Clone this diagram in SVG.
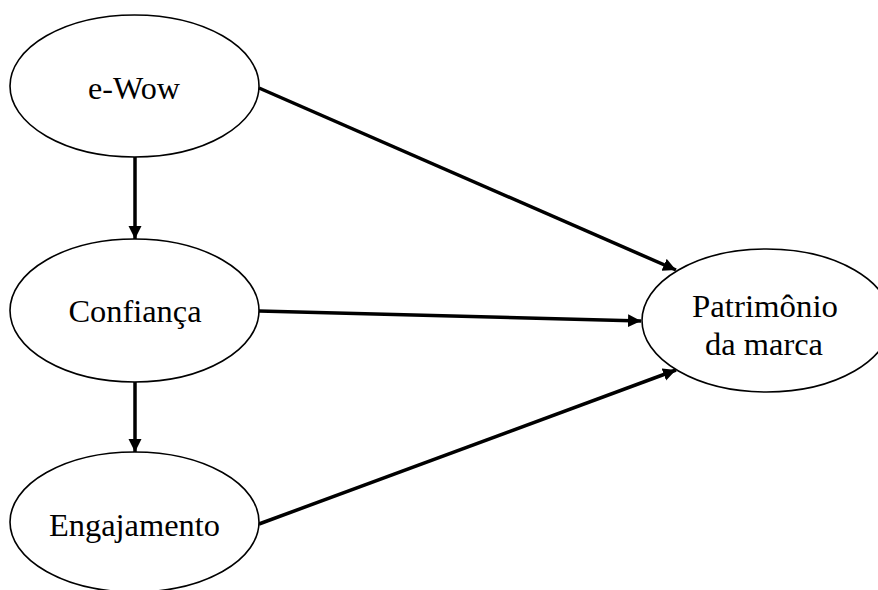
<svg xmlns="http://www.w3.org/2000/svg" width="878" height="590" viewBox="0 0 878 590">
  <style>
    .node ellipse { fill: #fff; stroke: #000; stroke-width: 1.6; }
    .node text { font-family: "Liberation Serif", "Times New Roman", serif; font-size: 32px; fill: #000; text-anchor: middle; }
    .edge { stroke: #000; stroke-width: 3.5; fill: none; marker-end: url(#arrow); }
  </style>
  <defs>
    <marker id="arrow" markerUnits="userSpaceOnUse" markerWidth="15" markerHeight="15" refX="13" refY="6.5" orient="auto">
      <path d="M0,0 L13,6.5 L0,13 z" fill="#000"/>
    </marker>
  </defs>
  <rect width="878" height="590" fill="#fff"/>

  <g id="connectors">
    <line class="edge" x1="135" y1="157" x2="135" y2="239"/>
    <line class="edge" x1="135" y1="382" x2="135" y2="452"/>
    <line class="edge" x1="259" y1="88" x2="676" y2="270"/>
    <line class="edge" x1="259" y1="311" x2="641" y2="321"/>
    <line class="edge" x1="259" y1="524" x2="676" y2="370"/>
  </g>

  <g id="ewow" class="node">
    <ellipse cx="134.5" cy="86" rx="124.5" ry="71"/>
    <text x="134" y="99" textLength="92" lengthAdjust="spacingAndGlyphs">e-Wow</text>
  </g>

  <g id="confianca" class="node">
    <ellipse cx="134.5" cy="310.5" rx="124.5" ry="71.5"/>
    <text x="135" y="322" textLength="133" lengthAdjust="spacingAndGlyphs">Confiança</text>
  </g>

  <g id="engajamento" class="node">
    <ellipse cx="134.5" cy="522" rx="124.5" ry="70"/>
    <text x="134.5" y="535.5" textLength="171" lengthAdjust="spacingAndGlyphs">Engajamento</text>
  </g>

  <g id="patrimonio" class="node">
    <ellipse cx="766.5" cy="320.5" rx="124.5" ry="71.5"/>
    <text x="765" y="317" textLength="146" lengthAdjust="spacingAndGlyphs">Patrimônio</text>
    <text x="764" y="355" textLength="118" lengthAdjust="spacingAndGlyphs">da marca</text>
  </g>
</svg>
